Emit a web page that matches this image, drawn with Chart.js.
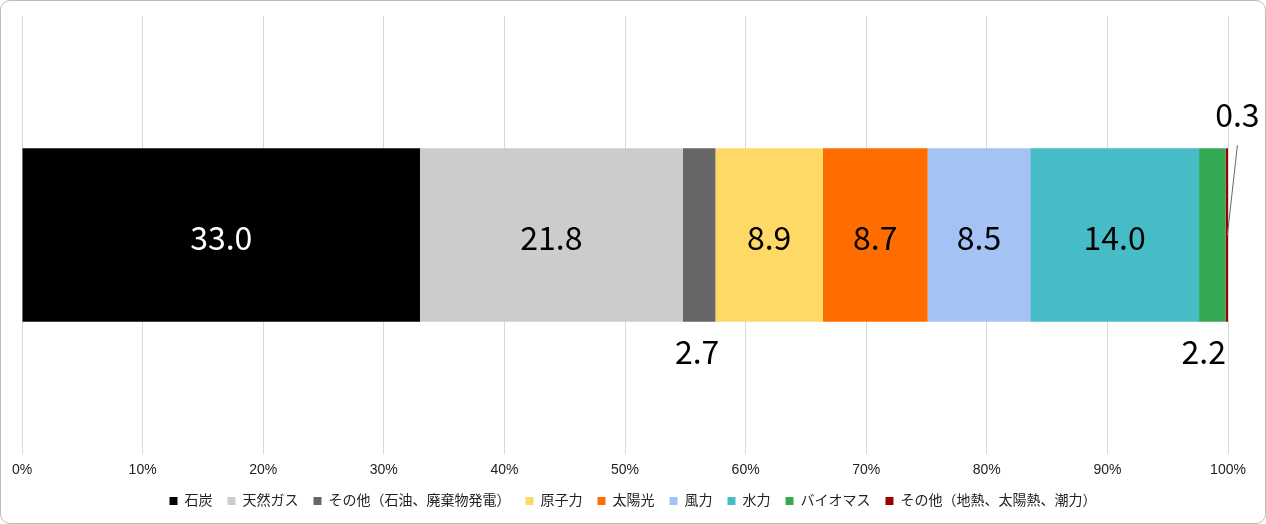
<!DOCTYPE html>
<html>
<head>
<meta charset="utf-8">
<script src="https://cdn.jsdelivr.net/npm/chart.js@4.4.1/dist/chart.umd.min.js"></script>
<style>
  body { margin: 0; background: #fff; }
  #wrap { position: relative; width: 1266px; height: 524px; }
  #frame { position: absolute; left: 0; top: 0; width: 1266px; height: 524px; box-sizing: border-box;
           border: 1px solid #bdbdbd; border-radius: 10px; pointer-events: none; }
</style>
</head>
<body>
<div id="wrap">
  <canvas id="energyChart"></canvas>
  <div id="frame"></div>
</div>
<script>
// Power generation mix (%)

let sources = ["石炭", "天然ガス", "その他（石油、廃棄物発電）", "原子力", "太陽光", "風力", "水力", "バイオマス", "その他（地熱、太陽熱、潮力）"];
let shares = [33.0, 21.8, 2.7, 8.9, 8.7, 8.5, 14.0, 2.2, 0.3];
let colors = ["#000000", "#cccccc", "#666666", "#ffd966", "#ff6d01", "#a4c2f4", "#46bdc6", "#34a853", "#990000"];
let tickValues = [0, 10, 20, 30, 40, 50, 60, 70, 80, 90, 100];

// draws the value labels: inside big bars, below small ones, above with a leader for tiny ones
let valueLabels = {
  id: 'valueLabels',
  afterDatasetsDraw(chart) {
    let ctx = chart.ctx;
    let area = chart.chartArea;
    ctx.save();
    ctx.font = '32px "Noto Sans CJK JP", "Noto Sans", sans-serif';
    ctx.textBaseline = 'alphabetic';
    ctx.textAlign = 'center';
    chart.data.datasets.forEach((ds, i) => {
      let bar = chart.getDatasetMeta(i).data[0];
      let v = ds.data[0];
      let txt = v.toFixed(1);
      let cx = (bar.x + bar.base) / 2;
      let top = bar.y - bar.height / 2;
      let bottom = bar.y + bar.height / 2;
      let w = ctx.measureText(txt).width;
      if (v >= 3) {
        ctx.fillStyle = ds.backgroundColor === "#000000" ? "#ffffff" : "#000000";
        ctx.fillText(txt, cx, bar.y + 15);
      } else if (v >= 1) {
        let x = cx;
        if (x + w / 2 > area.right) x = area.right - w / 2;
        ctx.fillStyle = "#000000";
        ctx.fillText(txt, x - 2, bottom + 42);
      } else {
        let x = cx + 10;
        ctx.fillStyle = "#000000";
        ctx.fillText(txt, x, top - 21);
        ctx.strokeStyle = "#666666";
        ctx.lineWidth = 1;
        ctx.beginPath();
        ctx.moveTo(x, top - 3);
        ctx.lineTo(cx, bar.y);
        ctx.stroke();
      }
    });
    ctx.restore();
  }
};

let energyChart = new Chart(document.getElementById("energyChart"), {
  type: 'bar',
  data: {
    labels: [""],
    datasets: sources.map((name, i) => ({
      label: name,
      data: [shares[i]],
      backgroundColor: colors[i],
      borderWidth: 0,
      barPercentage: 0.396,
      categoryPercentage: 1
    }))
  },
  options: {
    indexAxis: 'y',
    responsive: true,
    maintainAspectRatio: false,
    animation: false,
    layout: { padding: { left: 22, right: 22, top: 16, bottom: 6 } },
    scales: {
      x: {
        stacked: true,
        min: 0,
        max: 100,
        afterBuildTicks: (scale) => { scale.ticks = tickValues.map(v => ({ value: v })); },
        afterFit: (scale) => {
          // tighter axis box so the legend sits close, without clipping the tick labels
          scale.height = 25;
          scale._computeLabelArea = () => null;
        },
        grid: { color: "#d9d9d9", drawTicks: false },
        border: { display: false },
        ticks: {
          padding: 8,
          color: "#222222",
          font: { family: '"Liberation Sans", Arial, sans-serif', size: 14 },
          callback: (v) => v + "%"
        }
      },
      y: {
        stacked: true,
        position: 'right',
        // empty axis: only keeps a strip free on the right so the legend stays centred
        afterFit: (scale) => { scale.width = 16; },
        grid: { display: false },
        border: { display: false },
        ticks: { display: false }
      }
    },
    plugins: {
      legend: {
        position: 'bottom',
        labels: {
          boxWidth: 8,
          boxHeight: 8,
          padding: 15,
          color: "#222222",
          font: { family: '"Liberation Sans", "Noto Sans CJK JP", sans-serif', size: 14 }
        }
      },
      tooltip: { enabled: false }
    }
  },
  plugins: [valueLabels]
});
</script>
</body>
</html>
